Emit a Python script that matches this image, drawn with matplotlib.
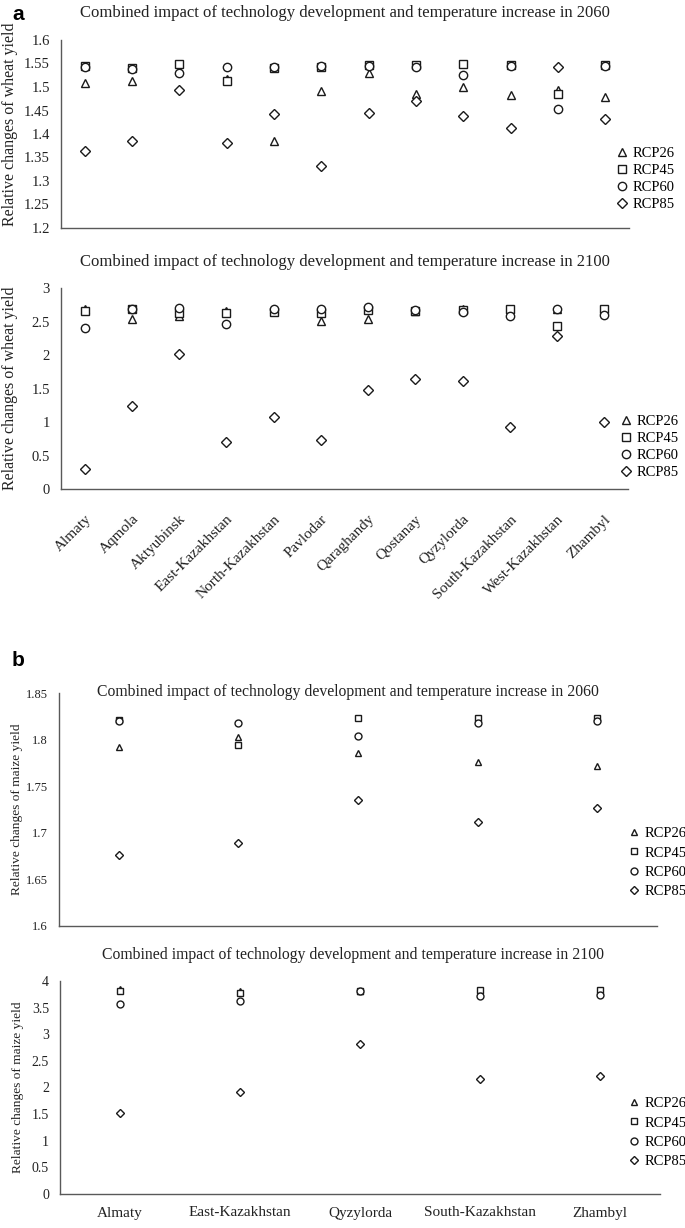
import matplotlib
matplotlib.use("Agg")
import matplotlib.pyplot as plt
from matplotlib.ticker import MultipleLocator, FuncFormatter

plt.rcParams['font.family'] = ['Liberation Serif', 'DejaVu Serif']

W, H = 685, 1228

wheat_regions = ["Almaty", "Aqmola", "Aktyubinsk", "East-Kazakhstan", "North-Kazakhstan", "Pavlodar",
                 "Qaraghandy", "Qostanay", "Qyzylorda", "South-Kazakhstan", "West-Kazakhstan", "Zhambyl"]
wheat2060_rcp26 = [1.508, 1.513, 1.536, 1.518, 1.385, 1.492, 1.530, 1.486, 1.499, 1.484, 1.493, 1.479]
wheat2060_rcp45 = [1.544, 1.540, 1.548, 1.512, 1.541, 1.543, 1.546, 1.546, 1.548, 1.547, 1.486, 1.547]
wheat2060_rcp60 = [1.543, 1.539, 1.530, 1.542, 1.543, 1.544, 1.545, 1.543, 1.525, 1.545, 1.454, 1.545]
wheat2060_rcp85 = [1.364, 1.385, 1.493, 1.380, 1.442, 1.332, 1.445, 1.471, 1.439, 1.412, 1.543, 1.431]

wheat2100_rcp26 = [2.69, 2.54, 2.58, 2.65, 2.68, 2.51, 2.54, 2.65, 2.68, 2.68, 2.69, 2.67]
wheat2100_rcp45 = [2.65, 2.68, 2.63, 2.62, 2.64, 2.63, 2.67, 2.66, 2.67, 2.68, 2.44, 2.68]
wheat2100_rcp60 = [2.40, 2.68, 2.70, 2.46, 2.68, 2.68, 2.71, 2.67, 2.64, 2.58, 2.69, 2.59]
wheat2100_rcp85 = [0.30, 1.24, 2.01, 0.70, 1.08, 0.73, 1.48, 1.64, 1.61, 0.93, 2.28, 1.00]

maize_regions = ["Almaty", "East-Kazakhstan", "Qyzylorda", "South-Kazakhstan", "Zhambyl"]
maize2060_rcp26 = [1.792, 1.803, 1.786, 1.776, 1.772]
maize2060_rcp45 = [1.821, 1.794, 1.823, 1.823, 1.823]
maize2060_rcp60 = [1.820, 1.818, 1.804, 1.818, 1.820]
maize2060_rcp85 = [1.676, 1.689, 1.735, 1.712, 1.727]

maize2100_rcp26 = [3.85, 3.81, 3.82, 3.84, 3.82]
maize2100_rcp45 = [3.81, 3.77, 3.82, 3.83, 3.83]
maize2100_rcp60 = [3.57, 3.62, 3.81, 3.72, 3.74]
maize2100_rcp85 = [1.53, 1.92, 2.81, 2.16, 2.22]

scenarios = ["RCP26", "RCP45", "RCP60", "RCP85"]
markers = ["^", "s", "o", "D"]

TITLE_2060 = "Combined impact of technology development and temperature increase in 2060"
TITLE_2100 = "Combined impact of technology development and temperature increase in 2100"
TEXT_COLOR = "#222222"

fig = plt.figure(figsize=(W / 100, H / 100), dpi=100)


def px_axes(left, top, right, bottom):
    return fig.add_axes([left / W, 1 - bottom / H, (right - left) / W, (bottom - top) / H])


def style_axes(ax, ylim, step, ylabel, label_x, tick_size, label_size, label_y=0.5):
    ax.set_ylim(*ylim)
    ax.yaxis.set_major_locator(MultipleLocator(step))
    ax.yaxis.set_major_formatter(FuncFormatter(lambda v, p: "%g" % round(v, 3)))
    for s in ["top", "right"]:
        ax.spines[s].set_visible(False)
    for s in ["left", "bottom"]:
        ax.spines[s].set_color("#595959")
        ax.spines[s].set_linewidth(1.0)
    ax.tick_params(length=0, pad=8, labelsize=tick_size, colors=TEXT_COLOR)
    ax.set_ylabel(ylabel, fontsize=label_size, color=TEXT_COLOR)
    ax.yaxis.set_label_coords(label_x, label_y)


def draw_points(ax, regions, series, ms):
    x = range(len(regions))
    for vals, name, m in zip(series, scenarios, markers):
        size = ms * 0.85 if m == "D" else ms
        ax.plot(x, vals, linestyle="none", marker=m, markersize=size, markerfacecolor="white",
                markeredgecolor="#1a1a1a", markeredgewidth=1.0, label=name)
    ax.set_xlim(-0.5, len(regions) - 0.5)
    ax.set_xticks(list(x))


def add_legend(ax, left, top, fontsize, spacing):
    ax.legend(loc="upper left", bbox_to_anchor=(left / W, 1 - top / H), bbox_transform=fig.transFigure,
              frameon=False, borderpad=0, borderaxespad=0, handlelength=0.9, handletextpad=0.3,
              labelspacing=spacing, numpoints=1, fontsize=fontsize)


# panel a, wheat 2060
ax1 = px_axes(61, 40, 629, 228)
draw_points(ax1, wheat_regions, [wheat2060_rcp26, wheat2060_rcp45, wheat2060_rcp60, wheat2060_rcp85], 6)
style_axes(ax1, (1.2, 1.6), 0.05, "Relative changes of wheat yield", -0.076, 10.5, 11.5, 0.553)
ax1.set_xticklabels([])
ax1.text(0.5, 1 + 27 / 188, TITLE_2060, transform=ax1.transAxes, ha="center", va="center",
         fontsize=12, color=TEXT_COLOR)
add_legend(ax1, 615, 147, 10.5, 0.25)

# panel a, wheat 2100
ax2 = px_axes(61, 288, 628, 489)
draw_points(ax2, wheat_regions, [wheat2100_rcp26, wheat2100_rcp45, wheat2100_rcp60, wheat2100_rcp85], 6)
style_axes(ax2, (0, 3), 0.5, "Relative changes of wheat yield", -0.076, 10.5, 11.5)
ax2.set_xticklabels(wheat_regions, rotation=45, ha="right", va="top", rotation_mode="anchor", fontsize=11)
ax2.tick_params(axis="x", pad=17)
ax2.text(0.5, 1 + 26 / 201, TITLE_2100, transform=ax2.transAxes, ha="center", va="center",
         fontsize=12, color=TEXT_COLOR)
add_legend(ax2, 619, 415, 10.5, 0.25)

# panel b, maize 2060
ax3 = px_axes(59, 693, 657, 926)
draw_points(ax3, maize_regions, [maize2060_rcp26, maize2060_rcp45, maize2060_rcp60, maize2060_rcp85], 5)
style_axes(ax3, (1.6, 1.85), 0.05, "Relative changes of maize yield", -0.06, 9, 9.6)
ax3.set_xticklabels([])
fig.text(348 / W, 1 - 692 / H, TITLE_2060, ha="center", va="center", fontsize=11.3, color=TEXT_COLOR)
add_legend(ax3, 627, 827, 10.5, 0.42)

# panel b, maize 2100
ax4 = px_axes(60, 981, 660, 1194)
draw_points(ax4, maize_regions, [maize2100_rcp26, maize2100_rcp45, maize2100_rcp60, maize2100_rcp85], 5)
style_axes(ax4, (0, 4), 0.5, "Relative changes of maize yield", -0.06, 10, 9.6)
ax4.set_xticklabels(maize_regions, fontsize=11)
ax4.tick_params(axis="x", pad=9)
fig.text(353 / W, 1 - 955 / H, TITLE_2100, ha="center", va="center", fontsize=11.3, color=TEXT_COLOR)
add_legend(ax4, 627, 1097, 10.5, 0.42)

# panel letters
fig.text(12 / W, 1 - 14 / H, "a", fontsize=15, fontweight="bold", family="Liberation Sans", va="center")
fig.text(12 / W, 1 - 660 / H, "b", fontsize=15, fontweight="bold", family="Liberation Sans", va="center")

fig.savefig("out.png", dpi=100)
